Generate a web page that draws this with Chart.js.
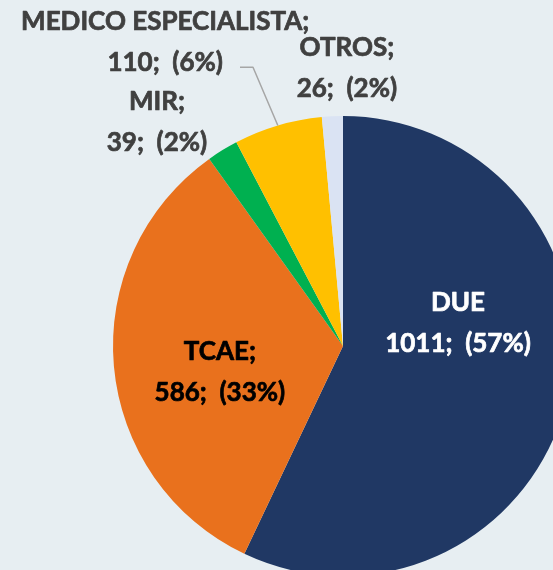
<!DOCTYPE html>
<html>
<head>
<meta charset="utf-8">
<script src="https://cdn.jsdelivr.net/npm/chart.js@4.4.0/dist/chart.umd.min.js"></script>
<style>
  html, body { margin: 0; padding: 0; width: 553px; height: 570px; overflow: hidden; background: #E7EEF2; }
  #wrap { position: absolute; left: 0; top: 0; width: 700px; height: 700px; }
</style>
</head>
<body>
<div id="wrap"><canvas id="c"></canvas></div>
<script>
// ---- data ----
const categories = ['DUE', 'TCAE', 'MIR', 'MEDICO ESPECIALISTA', 'OTROS'];
const values = [1011, 586, 39, 110, 26];
const percentLabels = ['57%', '33%', '2%', '6%', '2%'];
const nameSuffix = ['', ';', ';', ';', ';'];

// ---- styles / layout (not data) ----
const sliceColors = ['#203864', '#E9711D', '#00B050', '#FFC000', '#DAE3F3'];
const labelColors = ['#FFFFFF', '#000000', '#404040', '#404040', '#404040'];
// label block centres in polar form relative to pie centre (deg, fraction of radius)
const labelAngle = [-11.3, 168.1, -129.7, -120.3, -89.2];
const labelDist = [0.51, 0.547, 1.266, 1.532, 1.209];
const leaderFor = 3; // MEDICO ESPECIALISTA has a leader line
const FONT = 'bold 26px Lato, "Open Sans", sans-serif';
const LINE_GAP = 41;

const labelPlugin = {
  id: 'pieLabels',
  afterDatasetsDraw(chart) {
    const ctx = chart.ctx;
    const meta = chart.getDatasetMeta(0);
    ctx.save();
    ctx.font = FONT;
    ctx.textAlign = 'center';
    ctx.textBaseline = 'middle';
    ctx.lineJoin = 'round';
    meta.data.forEach((arc, i) => {
      const p = arc.getProps(['x', 'y', 'startAngle', 'endAngle', 'outerRadius'], true);
      const a = labelAngle[i] * Math.PI / 180;
      const cx = p.x + Math.cos(a) * p.outerRadius * labelDist[i];
      const cy = p.y + Math.sin(a) * p.outerRadius * labelDist[i];
      const line1 = categories[i] + nameSuffix[i];
      const line2 = values[i] + ';  (' + percentLabels[i] + ')';
      ctx.fillStyle = labelColors[i];
      ctx.strokeStyle = labelColors[i];
      ctx.lineWidth = 0.7;
      ctx.fillText(line1, cx, cy - LINE_GAP / 2);
      ctx.strokeText(line1, cx, cy - LINE_GAP / 2);
      ctx.fillText(line2, cx, cy + LINE_GAP / 2);
      ctx.strokeText(line2, cx, cy + LINE_GAP / 2);
      if (i === leaderFor) {
        const w2 = ctx.measureText(line2).width;
        const sx = cx + w2 / 2 + 17;
        const sy = cy + LINE_GAP / 2 + 5;
        const mid = (p.startAngle + p.endAngle) / 2;
        const ex = p.x + Math.cos(mid) * p.outerRadius;
        const ey = p.y + Math.sin(mid) * p.outerRadius;
        ctx.strokeStyle = '#A6A6A6';
        ctx.lineWidth = 1.5;
        ctx.beginPath();
        ctx.moveTo(sx, sy);
        ctx.lineTo(sx + 13, sy);
        ctx.lineTo(ex, ey);
        ctx.stroke();
      }
    });
    ctx.restore();
  }
};

new Chart(document.getElementById('c'), {
  type: 'pie',
  data: {
    labels: categories,
    datasets: [{
      data: values,
      backgroundColor: sliceColors,
      borderWidth: 0
    }]
  },
  options: {
    responsive: true,
    maintainAspectRatio: false,
    animation: false,
    layout: { padding: { left: 113, top: 116, right: 127, bottom: 124 } },
    plugins: { legend: { display: false }, tooltip: { enabled: false } }
  },
  plugins: [labelPlugin]
});
</script>
</body>
</html>
